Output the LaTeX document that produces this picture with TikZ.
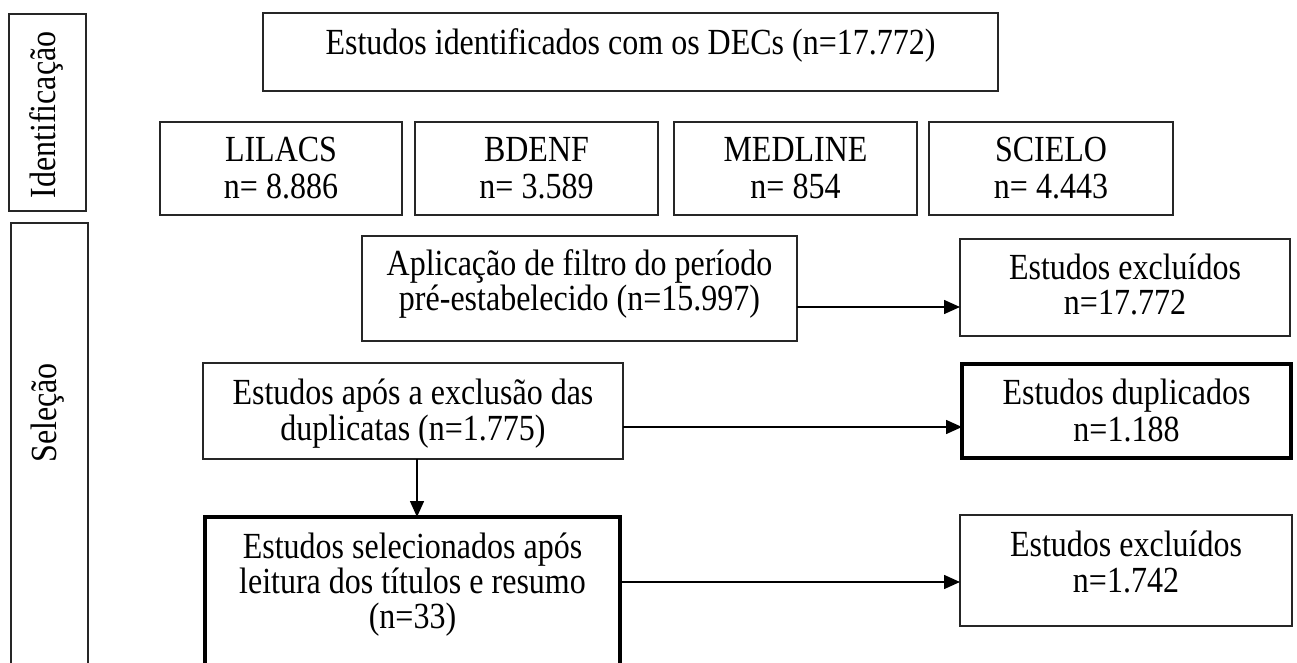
\documentclass[tikz,border=0pt]{standalone}
\usepackage{fontspec}
\usepackage{graphicx}
\setmainfont{Liberation Serif}
\usetikzlibrary{arrows.meta}
\newcommand\tx[1]{\scalebox{1}[1.15]{#1}}
\tikzset{
  box/.style={draw=black!85, line width=0.7pt, inner sep=0pt, outer sep=0pt},
  thickbox/.style={box, draw=black, line width=2.3pt},
  tl/.style={anchor=base, inner sep=0pt, font=\fontsize{16}{19}\selectfont},
  side/.style={rotate=90, inner sep=0pt, font=\fontsize{16}{19}\selectfont},
  arr/.style={draw=black, line width=0.75pt, -{Triangle[length=8pt,width=7pt]}},
}
\begin{document}
\begin{tikzpicture}[x=0.5pt,y=-0.5pt]
\clip (0,0) rectangle (1297,663);
\fill[white] (0,0) rectangle (1297,663);
% side boxes
\node[box, minimum width=38.5pt, minimum height=98.5pt] (ident) at (47.5,112.5) {};
\node[box, minimum width=38.5pt, minimum height=238.5pt] (selec) at (49.5,461.5) {};
\node[side] (identt) at (46,115) {\tx{Identificação}};
\node[side] (select) at (48,413) {\tx{Seleção}};
% top
\node[box, minimum width=367.5pt, minimum height=39pt] (top) at (630.5,52) {};
\node[tl] (topt) at (630.5,55) {\tx{Estudos identificados com os DECs (n=17.772)}};
% databases
\node[box, minimum width=121pt, minimum height=46.5pt] (lil) at (281,168.5) {};
\node[box, minimum width=121.5pt, minimum height=46.5pt] (bde) at (536.5,168.5) {};
\node[box, minimum width=121.5pt, minimum height=46.5pt] (med) at (795.5,168.5) {};
\node[box, minimum width=122pt, minimum height=46.5pt] (sci) at (1051,168.5) {};
\node[tl] (lil1) at (281,162) {\tx{LILACS}};
\node[tl] (lil2) at (281,199) {\tx{n= 8.886}};
\node[tl] (bde1) at (536.5,162) {\tx{BDENF}};
\node[tl] (bde2) at (536.5,199) {\tx{n= 3.589}};
\node[tl] (med1) at (795.5,162) {\tx{MEDLINE}};
\node[tl] (med2) at (795.5,199) {\tx{n= 854}};
\node[tl] (sci1) at (1051,162) {\tx{SCIELO}};
\node[tl] (sci2) at (1051,199) {\tx{n= 4.443}};
% filter
\node[box, minimum width=217.5pt, minimum height=52.5pt] (filt) at (579.5,288.5) {};
\node[tl] (filt1) at (579.5,276) {\tx{Aplicação de filtro do período}};
\node[tl] (filt2) at (579.5,311) {\tx{pré-estabelecido (n=15.997)}};
\node[box, minimum width=165pt, minimum height=48.5pt] (exc1) at (1125,287.5) {};
\node[tl] (exc11) at (1125,280) {\tx{Estudos excluídos}};
\node[tl] (exc12) at (1125,315) {\tx{n=17.772}};
% duplicates
\node[box, minimum width=210pt, minimum height=48pt] (apos) at (413,411) {};
\node[tl] (apos1) at (413,405) {\tx{Estudos após a exclusão das}};
\node[tl] (apos2) at (413,441) {\tx{duplicatas (n=1.775)}};
\node[thickbox, minimum width=164.5pt, minimum height=47pt] (dup) at (1126.5,411) {};
\node[tl] (dup1) at (1126.5,405) {\tx{Estudos duplicados}};
\node[tl] (dup2) at (1126.5,442) {\tx{n=1.188}};
% selected
\node[thickbox, minimum width=207.5pt, minimum height=92pt] (sel) at (412.5,609) {};
\node[tl] (sel1) at (412.5,558) {\tx{Estudos selecionados após}};
\node[tl] (sel2) at (412.5,593) {\tx{leitura dos títulos e resumo}};
\node[tl] (sel3) at (412.5,628) {\tx{(n=33)}};
\node[box, minimum width=166pt, minimum height=55.5pt] (exc2) at (1126,570.5) {};
\node[tl] (exc21) at (1126,556) {\tx{Estudos excluídos}};
\node[tl] (exc22) at (1126,592) {\tx{n=1.742}};
% connectors
\coordinate (y1) at (0,307);
\coordinate (y2) at (0,427);
\coordinate (y3) at (0,582);
\coordinate (xd) at (417,0);
\draw[arr] (filt.east |- y1) -- (exc1.west |- y1);
\draw[arr] (apos.east |- y2) -- (dup.west |- y2);
\draw[arr] (sel.east |- y3) -- (exc2.west |- y3);
\draw[arr] (apos.south -| xd) -- (sel.north -| xd);
\end{tikzpicture}
\end{document}
